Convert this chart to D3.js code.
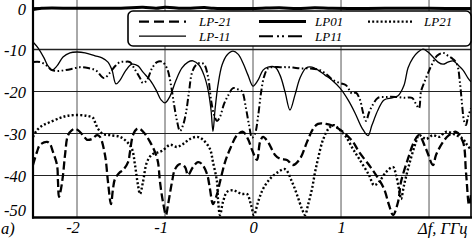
<!DOCTYPE html>
<html><head><meta charset="utf-8">
<script src="https://cdn.jsdelivr.net/npm/d3@7"></script>
<style>body{margin:0;background:#fff}svg{display:block}</style>
</head><body><svg id="c" width="476" height="244"></svg>
<script>
// ---- data (frequency offset in GHz, level in dB) ----
const xGrid = [-2, -1, 0, 1, 2];
const xTickLabels = [-2, -1, 0, 1];
const yTicks = [0, -10, -20, -30, -40, -50];
const xTitle = "Δf, ГГц";
const panelLabel = "а)";

const lpMinus11 = [[-2.5,-8.2],[-2.443,-9.6],[-2.375,-12],[-2.33,-13.9],[-2.284,-14.9],[-2.227,-13.9],[-2.159,-11.8],[-2.08,-10.8],[-2.0,-10.6],[-1.909,-10.8],[-1.795,-11.5],[-1.716,-12],[-1.648,-13],[-1.602,-14.9],[-1.557,-18.2],[-1.511,-17.3],[-1.443,-14.9],[-1.375,-13.5],[-1.307,-13.9],[-1.25,-15.4],[-1.17,-17.3],[-1.102,-19.6],[-1.045,-22],[-1.0,-22.7],[-0.943,-21.1],[-0.875,-17.3],[-0.807,-14.4],[-0.739,-13],[-0.682,-12.7],[-0.614,-13.7],[-0.557,-16.1],[-0.511,-19.6],[-0.477,-24.4],[-0.455,-29.5],[-0.432,-24.4],[-0.398,-18.5],[-0.352,-13.7],[-0.295,-11.3],[-0.227,-10.4],[-0.17,-11.1],[-0.114,-13.2],[-0.057,-16.1],[0,-18.7],[0.057,-17.3],[0.114,-14.9],[0.17,-14.2],[0.25,-14.2],[0.307,-16.1],[0.364,-20.1],[0.42,-24.4],[0.477,-20.8],[0.534,-16.8],[0.602,-14.4],[0.67,-14.2],[0.739,-14.9],[0.818,-16.1],[0.898,-17.3],[0.989,-19.2],[1.08,-22],[1.159,-25.1],[1.239,-28.7],[1.307,-30.5],[1.352,-28],[1.42,-24.4],[1.489,-22],[1.58,-21.5],[1.648,-21],[1.716,-18.5],[1.761,-14.4],[1.818,-12],[1.875,-10.6],[1.932,-9.9],[1.989,-10.6],[2.045,-11.8],[2.102,-13],[2.159,-13.5],[2.216,-13],[2.273,-12.7],[2.33,-13.7],[2.386,-14.9],[2.443,-16.8],[2.477,-17.7]];

const lp11 = [[-2.5,-13],[-2.42,-13],[-2.352,-13.7],[-2.284,-14.9],[-2.216,-15.1],[-2.136,-14.9],[-2.057,-14.6],[-1.966,-14.2],[-1.875,-14.4],[-1.784,-15],[-1.693,-16.8],[-1.625,-15.5],[-1.568,-14],[-1.511,-13],[-1.455,-12.9],[-1.398,-13],[-1.352,-14.4],[-1.284,-16.8],[-1.25,-18],[-1.205,-17.3],[-1.148,-14.5],[-1.091,-13],[-1.034,-12.9],[-0.977,-14.5],[-0.932,-18.5],[-0.898,-23],[-0.864,-27],[-0.83,-29.4],[-0.795,-28],[-0.761,-25],[-0.727,-20],[-0.693,-15.5],[-0.648,-13.7],[-0.602,-13.2],[-0.557,-13.5],[-0.511,-16.5],[-0.477,-22],[-0.443,-25.5],[-0.409,-27],[-0.375,-26],[-0.33,-23],[-0.284,-21],[-0.227,-19.2],[-0.17,-19.5],[-0.125,-20],[-0.08,-24],[-0.045,-28],[-0.011,-31],[0.023,-30],[0.057,-26],[0.091,-20.3],[0.125,-16.5],[0.17,-14.5],[0.227,-14.2],[0.307,-14.2],[0.375,-14.2],[0.455,-14.3],[0.534,-14.5],[0.648,-14.5],[0.761,-14.9],[0.841,-16],[0.909,-17.3],[0.989,-18],[1.057,-18.5],[1.125,-20.5],[1.17,-20.3],[1.216,-22],[1.25,-25],[1.284,-27],[1.318,-25],[1.352,-23.5],[1.42,-21.5],[1.511,-21.3],[1.625,-21.3],[1.727,-21.5],[1.807,-21.5],[1.852,-23],[1.886,-24],[1.909,-20],[1.943,-18],[1.989,-15.6],[2.034,-13.5],[2.091,-11.5],[2.159,-10.8],[2.216,-11.5],[2.273,-12.3],[2.318,-13.5],[2.352,-18],[2.375,-23],[2.398,-27],[2.42,-28],[2.443,-26],[2.477,-24]];

const lpMinus21 = [[-2.5,-37.5],[-2.455,-34.4],[-2.42,-32.7],[-2.341,-32],[-2.307,-32.5],[-2.273,-34.4],[-2.227,-37.5],[-2.216,-41.5],[-2.205,-45.1],[-2.182,-43.2],[-2.159,-39.9],[-2.136,-35.1],[-2.102,-30.4],[-2.057,-29.2],[-2.023,-28.9],[-1.989,-29.2],[-1.932,-30.4],[-1.886,-31.5],[-1.83,-31.3],[-1.773,-30.4],[-1.739,-30.8],[-1.682,-35.1],[-1.648,-41.5],[-1.614,-46.8],[-1.591,-43.2],[-1.568,-40.8],[-1.511,-39.2],[-1.477,-38.7],[-1.42,-36.8],[-1.398,-34.4],[-1.364,-30.4],[-1.318,-28.9],[-1.284,-28.9],[-1.227,-30.1],[-1.17,-32],[-1.114,-34.4],[-1.08,-36.8],[-1.057,-41.5],[-1.023,-46.3],[-0.989,-49.4],[-0.966,-47],[-0.92,-41.5],[-0.886,-38.5],[-0.83,-37.3],[-0.773,-38],[-0.739,-39.9],[-0.682,-38],[-0.625,-36.8],[-0.58,-37.3],[-0.523,-39.6],[-0.489,-43.2],[-0.455,-46.8],[-0.409,-44.4],[-0.375,-41.5],[-0.318,-36.8],[-0.261,-33.7],[-0.182,-30.4],[-0.114,-29.6],[-0.057,-31.3],[-0.011,-33.9],[0.045,-36.3],[0.08,-32],[0.114,-30.8],[0.17,-32],[0.25,-35.1],[0.307,-36],[0.386,-36.3],[0.455,-37.5],[0.534,-36],[0.614,-32],[0.682,-28.9],[0.739,-27.7],[0.83,-27.7],[0.943,-28.5],[1.023,-29.6],[1.136,-32],[1.205,-34.4],[1.318,-37.5],[1.398,-39.9],[1.489,-43.2],[1.545,-47],[1.591,-49.4],[1.648,-46.3],[1.682,-41.5],[1.761,-36],[1.83,-32],[1.886,-30.4],[1.966,-33.7],[2.045,-37.5],[2.08,-35.1],[2.159,-32],[2.227,-30.4],[2.307,-29.6],[2.386,-32],[2.42,-39.2],[2.455,-47],[2.477,-44.6]];

const lp21 = [[-2.5,-30.8],[-2.455,-29.2],[-2.386,-28],[-2.307,-27.3],[-2.193,-26.3],[-2.114,-25.8],[-2,-25.6],[-1.886,-25.8],[-1.818,-26.3],[-1.795,-27.3],[-1.761,-28.9],[-1.705,-30.1],[-1.625,-30.4],[-1.511,-30.8],[-1.432,-32],[-1.375,-33.7],[-1.341,-37.5],[-1.307,-42.3],[-1.284,-44.4],[-1.25,-41.5],[-1.205,-36.8],[-1.148,-35],[-1.08,-34.5],[-1.023,-34],[-0.943,-32.7],[-0.864,-33.2],[-0.795,-32.5],[-0.716,-31.3],[-0.636,-30.8],[-0.568,-31.5],[-0.489,-33.7],[-0.455,-36.8],[-0.409,-41.5],[-0.398,-45.6],[-0.375,-49.4],[-0.341,-46.3],[-0.295,-43.9],[-0.227,-43.5],[-0.17,-44],[-0.125,-44.4],[-0.068,-44.4],[-0.023,-47],[0.011,-49.4],[0.057,-46.3],[0.114,-43.2],[0.193,-40.8],[0.284,-39.2],[0.364,-38.5],[0.443,-41.5],[0.5,-44.6],[0.557,-48],[0.591,-49.4],[0.625,-47],[0.67,-43.2],[0.705,-39.2],[0.739,-36],[0.795,-31.5],[0.864,-28.7],[0.92,-28],[0.989,-29.2],[1.057,-30.8],[1.136,-33.7],[1.205,-36],[1.318,-39.9],[1.375,-42.3],[1.432,-41.5],[1.511,-39.2],[1.591,-38],[1.625,-39.9],[1.659,-43.2],[1.682,-45.6],[1.716,-42.3],[1.773,-37.5],[1.852,-32],[1.886,-30.4],[1.966,-31.3],[2.045,-30.4],[2.114,-30.8],[2.193,-29.6],[2.307,-30.4],[2.386,-31.3],[2.432,-32.7],[2.477,-33.9]];

const lp01 = [[-2.5,-0.5],[-2.4,-0.2],[-2.0,-0.2],[-1.5,-0.15],[-1.25,0.05],[-1.1,-0.2],[-1.0,0.05],[-0.8,-0.2],[-0.55,0.0],[-0.45,-0.2],[0,-0.25],[0.3,-0.05],[0.5,-0.25],[0.7,-0.05],[0.9,-0.2],[1.5,-0.2],[2.0,-0.2],[2.477,-0.3]];

const legendNames = ["LP-21","LP01","LP21","LP-11","LP11"];

// ---- drawing ----
const svg = d3.select("#c");
const L = 33, R = 471, T = 0, B = 217.5;
const x = d3.scaleLinear().domain([-2.5, 2.477]).range([L, R]);
const y = d3.scaleLinear().domain([0, -50]).range([7.5, B]);
const FONT = "'Liberation Serif','Times New Roman',serif";

svg.append("defs").append("clipPath").attr("id","clip")
  .append("rect").attr("x",L).attr("y",T).attr("width",R-L).attr("height",B-T);

// grid
const g = svg.append("g");
g.selectAll(".vg").data(xGrid).join("line")
  .attr("x1",d=>x(d)).attr("x2",d=>x(d)).attr("y1",T).attr("y2",B)
  .attr("stroke","#555").attr("stroke-width",1);
g.selectAll(".hg").data(yTicks.filter(d=>d!==-50)).join("line")
  .attr("x1",L).attr("x2",R).attr("y1",d=>y(d)).attr("y2",d=>y(d))
  .attr("stroke","#222").attr("stroke-width",d=>d===-10?1.4:1);

const line = d3.line().x(d=>x(d[0])).y(d=>y(d[1])).curve(d3.curveCatmullRom.alpha(0.5));
const plot = svg.append("g").attr("clip-path","url(#clip)");
const styles = {
  lpMinus21: {data: lpMinus21, w: 2.3, dash: "8,3.5"},
  lp21:      {data: lp21, w: 2.4, dash: "2,2.2"},
  lp11:      {data: lp11, w: 2, dash: "7,2.5,1.6,2.5,1.6,2.5"},
  lpMinus11: {data: lpMinus11, w: 1.3, dash: null},
  lp01:      {data: lp01, w: 3, dash: null}
};
for (const k of ["lpMinus21","lp21","lp11","lpMinus11","lp01"]) {
  const s = styles[k];
  plot.append("path").datum(s.data).attr("d", line)
    .attr("fill","none").attr("stroke","#000").attr("stroke-width", s.w)
    .attr("stroke-dasharray", s.dash).attr("stroke-linejoin","round");
}

// frame
svg.append("line").attr("x1",L).attr("x2",L).attr("y1",T).attr("y2",B+1).attr("stroke","#000").attr("stroke-width",2.2);
svg.append("line").attr("x1",L-1).attr("x2",R+1).attr("y1",B).attr("y2",B).attr("stroke","#000").attr("stroke-width",2.4);
svg.append("line").attr("x1",R).attr("x2",R).attr("y1",T).attr("y2",B).attr("stroke","#000").attr("stroke-width",1.6);

// axes labels
const fmt = d => d3.format("d")(d).replace("−","-");
const ya = svg.append("g").attr("transform",`translate(${L},0)`)
  .call(d3.axisLeft(y).tickValues(yTicks).tickSize(0).tickPadding(7).tickFormat(fmt));
ya.select(".domain").remove();
ya.selectAll("text").attr("font-family",FONT).attr("font-style","italic").attr("font-size",16.5).attr("fill","#000")
  .attr("dy", d=> d===-50 ? "-0.1em" : d===0 ? "0.45em" : "0.34em");

const xa = svg.append("g").attr("transform",`translate(0,${B})`)
  .call(d3.axisBottom(x).tickValues(xTickLabels).tickSize(0).tickPadding(4).tickFormat(fmt));
xa.select(".domain").remove();
xa.selectAll("text").attr("font-family",FONT).attr("font-style","italic").attr("font-size",16.5).attr("fill","#000")
  .attr("dx", d=> d<0 ? -4.5 : 0);

svg.append("text").attr("x",1).attr("y",234).text(panelLabel)
  .attr("font-family",FONT).attr("font-style","italic").attr("font-size",16.5);
svg.append("text").attr("x",418).attr("y",234).text(xTitle)
  .attr("font-family",FONT).attr("font-style","italic").attr("font-size",16.5);

// legend
const lg = svg.append("g");
lg.append("rect").attr("x",128).attr("y",11).attr("width",343).attr("height",35).attr("rx",5)
  .attr("fill","#fff").attr("stroke","#000").attr("stroke-width",1.6);
const legendItems = [
  {name: legendNames[0], k:"lpMinus21", sx:139, tx:199, row:0},
  {name: legendNames[1], k:"lp01",      sx:259, tx:315, row:0},
  {name: legendNames[2], k:"lp21",      sx:368, tx:424, row:0},
  {name: legendNames[3], k:"lpMinus11", sx:139, tx:199, row:1},
  {name: legendNames[4], k:"lp11",      sx:259, tx:315, row:1}
];
legendItems.forEach(it=>{
  const s = styles[it.k];
  const yy = it.row===0 ? 21.6 : 36.2;
  const len = it.k==="lp21" ? 45 : 47;
  lg.append("line").attr("x1",it.sx).attr("x2",it.sx+len).attr("y1",yy).attr("y2",yy)
    .attr("stroke","#000").attr("stroke-width",s.w)
    .attr("stroke-dasharray", it.k==="lpMinus21" ? "10,5" : it.k==="lp11" ? "14,4,2,3,2,4" : s.dash);
  lg.append("text").attr("x",it.tx).attr("y",yy+4.3).text(it.name)
    .attr("font-family",FONT).attr("font-style","italic").attr("font-size",13);
});
</script></body></html>
